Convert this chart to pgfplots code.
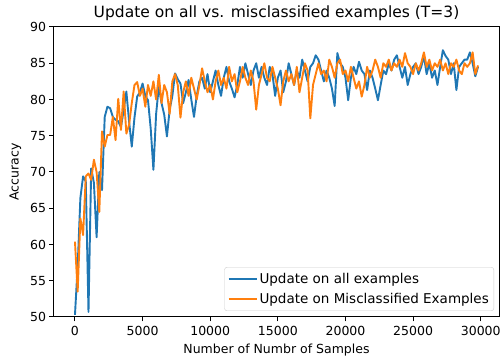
\documentclass[border=0pt]{standalone}
\usepackage{fontspec}
\setmainfont{DejaVu Sans}
\usepackage{pgfplots}
\pgfplotsset{compat=1.18}
\usepackage{pgfplotstable}
\definecolor{mplblue}{HTML}{1F77B4}
\definecolor{mplorange}{HTML}{FF7F0E}
\pgfplotstableread{
i a m
0 50.3 60.4
1 57.0 53.5
2 66.4 63.6
3 69.4 61.3
4 68.7 69.4
5 50.7 69.8
6 70.5 68.9
7 68.5 71.7
8 61.0 70.0
9 70.0 64.5
10 67.5 75.6
11 77.6 73.5
12 79.0 75.1
13 78.8 75.1
14 77.6 77.6
15 77.2 74.4
16 77.0 80.1
17 76.2 75.8
18 78.5 81.1
19 81.1 75.3
20 77.0 76.5
21 73.5 79.5
22 77.5 82.0
23 80.4 82.4
24 81.0 80.5
25 82.2 81.5
26 80.5 79.0
27 79.9 82.0
28 76.0 80.5
29 70.3 82.5
30 78.0 80.0
31 81.8 83.4
32 79.5 79.5
33 77.9 82.0
34 74.9 81.0
35 78.6 78.0
36 80.5 82.5
37 83.6 83.5
38 82.8 82.0
39 82.2 77.5
40 79.5 81.0
41 81.0 82.5
42 82.7 80.5
43 80.0 83.0
44 77.6 81.5
45 80.5 80.0
46 82.5 82.0
47 83.0 84.3
48 81.5 82.5
49 83.5 81.0
50 81.0 82.0
51 82.5 80.0
52 84.0 82.5
53 82.0 84.0
54 80.5 82.0
55 83.0 83.0
56 84.5 81.5
57 82.5 84.5
58 81.5 82.5
59 80.3 83.5
60 82.0 81.0
61 84.5 82.5
62 83.0 84.5
63 85.0 83.0
64 83.5 82.0
65 82.0 84.0
66 84.0 82.5
67 85.0 78.6
68 83.0 82.0
69 84.5 83.5
70 83.0 85.0
71 82.0 83.0
72 84.5 82.5
73 83.5 84.5
74 80.5 83.0
75 83.0 81.5
76 84.0 79.2
77 81.0 82.5
78 82.5 84.0
79 85.0 82.5
80 83.5 83.5
81 82.0 82.0
82 84.0 84.5
83 83.0 81.0
84 85.5 83.0
85 84.0 85.0
86 82.5 84.0
87 84.5 77.4
88 85.0 82.0
89 86.1 83.5
90 85.5 85.0
91 84.0 83.5
92 82.5 84.0
93 84.0 82.5
94 83.0 85.5
95 81.5 84.5
96 79.1 83.0
97 86.4 85.0
98 85.0 85.5
99 84.5 83.5
100 83.0 84.0
101 79.9 82.5
102 83.0 84.5
103 84.5 83.0
104 83.5 81.5
105 85.2 82.5
106 84.0 80.4
107 83.5 82.0
108 81.3 84.5
109 84.0 83.0
110 83.0 84.0
111 81.5 85.5
112 79.9 84.5
113 82.0 83.0
114 84.0 85.0
115 83.5 84.5
116 85.0 85.5
117 84.0 84.0
118 85.5 85.0
119 86.1 84.5
120 84.5 85.5
121 83.0 84.5
122 84.5 86.4
123 82.0 85.0
124 83.5 84.5
125 84.5 83.5
126 85.0 85.0
127 83.5 84.0
128 84.5 85.0
129 86.0 86.5
130 83.5 84.5
131 85.0 85.5
132 83.0 84.0
133 84.0 85.0
134 82.0 84.5
135 84.5 85.5
136 86.8 84.0
137 86.0 85.0
138 85.5 83.5
139 83.5 85.0
140 85.0 84.5
141 81.3 85.5
142 84.5 84.0
143 85.0 83.5
144 85.5 85.0
145 85.5 84.5
146 86.5 85.0
147 85.0 86.5
148 83.2 83.5
149 84.5 84.7
}\acc
\begin{document}
\begin{tikzpicture}[x=1pt,y=1pt]
\begin{axis}[
  scale only axis,
  width=445pt, height=290pt,
  at={(0,0)}, anchor=south west,
  xmin=-1550, xmax=31350,
  ymin=50, ymax=90,
  xtick={0,5000,...,30000},
  ytick={50,55,...,90},
  scaled x ticks=false,
  /pgf/number format/1000 sep={},
  /pgf/number format/assume math mode=true,
  tick label style={font=\fontsize{12.5}{14}\selectfont},
  xticklabel style={yshift=-1.5pt},
  tick align=outside,
  tick pos=left,
  major tick length=4.5pt,
  axis line style={line width=1pt},
  every tick/.style={black, line width=1pt},
  title={Update on all vs. misclassified examples (T=3)},
  title style={font=\fontsize{15.5}{18}\selectfont, yshift=-3pt},
  xlabel={Number of Numbr of Samples},
  ylabel={Accuracy},
  label style={font=\fontsize{12.5}{14}\selectfont},
  xlabel style={yshift=-1pt},
  ylabel style={yshift=2pt},
  legend style={font=\fontsize{13.5}{16}\selectfont, draw=black!20, rounded corners=2.5pt, fill=white, fill opacity=0.8, text opacity=1, at={(1,0)}, xshift=-5pt, yshift=6pt, anchor=south east, inner xsep=3pt, inner ysep=4pt, row sep=4pt},
  legend cell align=left,
  legend image post style={line width=2pt},
  legend image code/.code={\draw[#1] (0pt,0pt) -- (28pt,0pt);},
]
\addplot[mplblue, line width=1.9pt, line join=round] table[x expr=\thisrow{i}*200, y=a]{\acc};
\addlegendentry{Update on all examples}
\addplot[mplorange, line width=1.9pt, line join=round] table[x expr=\thisrow{i}*200, y=m]{\acc};
\addlegendentry{Update on Misclassified Examples}
\end{axis}
\path[use as bounding box] (-54pt,-39pt) rectangle (450pt,317pt);
\end{tikzpicture}
\end{document}
